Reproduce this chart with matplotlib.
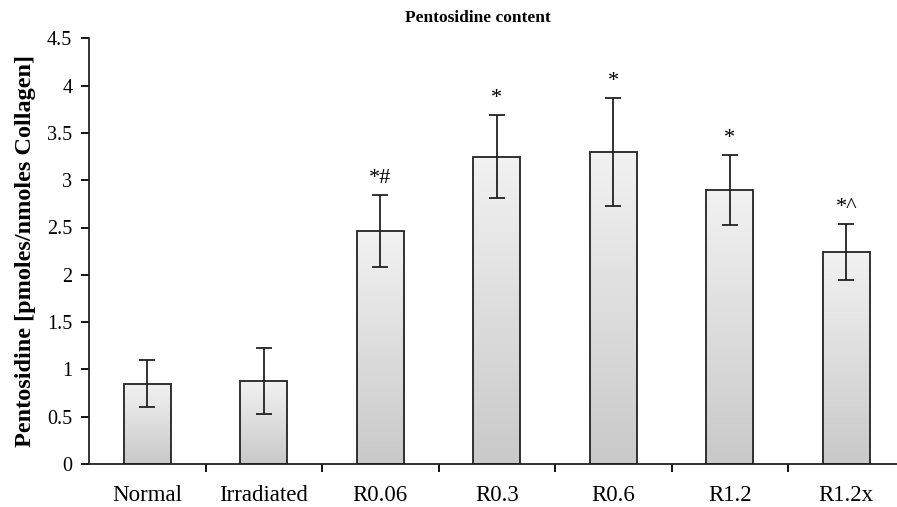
import matplotlib
matplotlib.use("Agg")
import matplotlib.pyplot as plt
import numpy as np

categories = ["Normal", "Irradiated", "R0.06", "R0.3", "R0.6", "R1.2", "R1.2x"]
values = [0.85, 0.88, 2.46, 3.25, 3.30, 2.90, 2.24]
errors = [0.25, 0.35, 0.38, 0.44, 0.57, 0.37, 0.30]
marks = ["", "", "*#", "*", "*", "*", "*^"]
yticks = [0, 0.5, 1, 1.5, 2, 2.5, 3, 3.5, 4, 4.5]
ytick_labels = ["0", "0.5", "1", "1.5", "2", "2.5", "3", "3.5", "4", "4.5"]

plt.rcParams['font.family'] = ['Liberation Serif', 'DejaVu Serif']

W, H = 897, 507
fig = plt.figure(figsize=(W / 100, H / 100), dpi=100)
ax = fig.add_axes([89 / W, (H - 464) / H, (W - 89) / W, (464 - 38.3) / H])

x = np.arange(len(categories))
bw = 0.40
bars = ax.bar(x, values, width=bw, color='none', edgecolor='#222222', linewidth=1.3, zorder=3)

grad = np.linspace(0, 1, 256).reshape(-1, 1)
cmap = matplotlib.colors.LinearSegmentedColormap.from_list('g', ['#c9c9c9', '#f2f2f2'])
for b in bars:
    x0, y0 = b.get_x(), b.get_y()
    w, h = b.get_width(), b.get_height()
    im = ax.imshow(grad, extent=[x0, x0 + w, y0, y0 + h], origin='lower',
                   cmap=cmap, aspect='auto', zorder=2)
    im.set_clip_path(b)

ax.errorbar(x, values, yerr=errors, fmt='none', ecolor='#222222', elinewidth=1.3,
            capsize=6, capthick=1.3, zorder=4)

for xi, v, e, m in zip(x, values, errors, marks):
    if m:
        ax.annotate(m, (xi, v + e), xytext=(0, 5), textcoords='offset points',
                    ha='center', va='bottom', fontsize=16)

ax.set_xlim(-0.5, -0.5 + (W - 89) / 116.5)
ax.set_ylim(0, 4.5)
ax.set_yticks(yticks)
ax.set_yticklabels(ytick_labels, fontsize=14.5)
ax.set_xticks(x)
ax.set_xticklabels(categories, fontsize=16.5)
ax.tick_params(axis='x', which='major', length=0, pad=15)
ax.set_xticks(np.arange(0.5, len(categories) - 0.5, 1), minor=True)
ax.tick_params(axis='x', which='minor', length=6, width=1.3, direction='out')
ax.tick_params(axis='y', length=6, width=1.3, direction='out', pad=6)

for s in ['top', 'right']:
    ax.spines[s].set_visible(False)
for s in ['left', 'bottom']:
    ax.spines[s].set_linewidth(1.3)
    ax.spines[s].set_color('#222222')

ax.set_ylabel("Pentosidine [pmoles/nmoles Collagen]", fontsize=17.5, fontweight='bold', labelpad=8)
fig.text(478 / W, 1 - 18 / H, "Pentosidine content", ha='center', va='center',
         fontsize=12.5, fontweight='bold')

fig.savefig("out.png", dpi=100)
